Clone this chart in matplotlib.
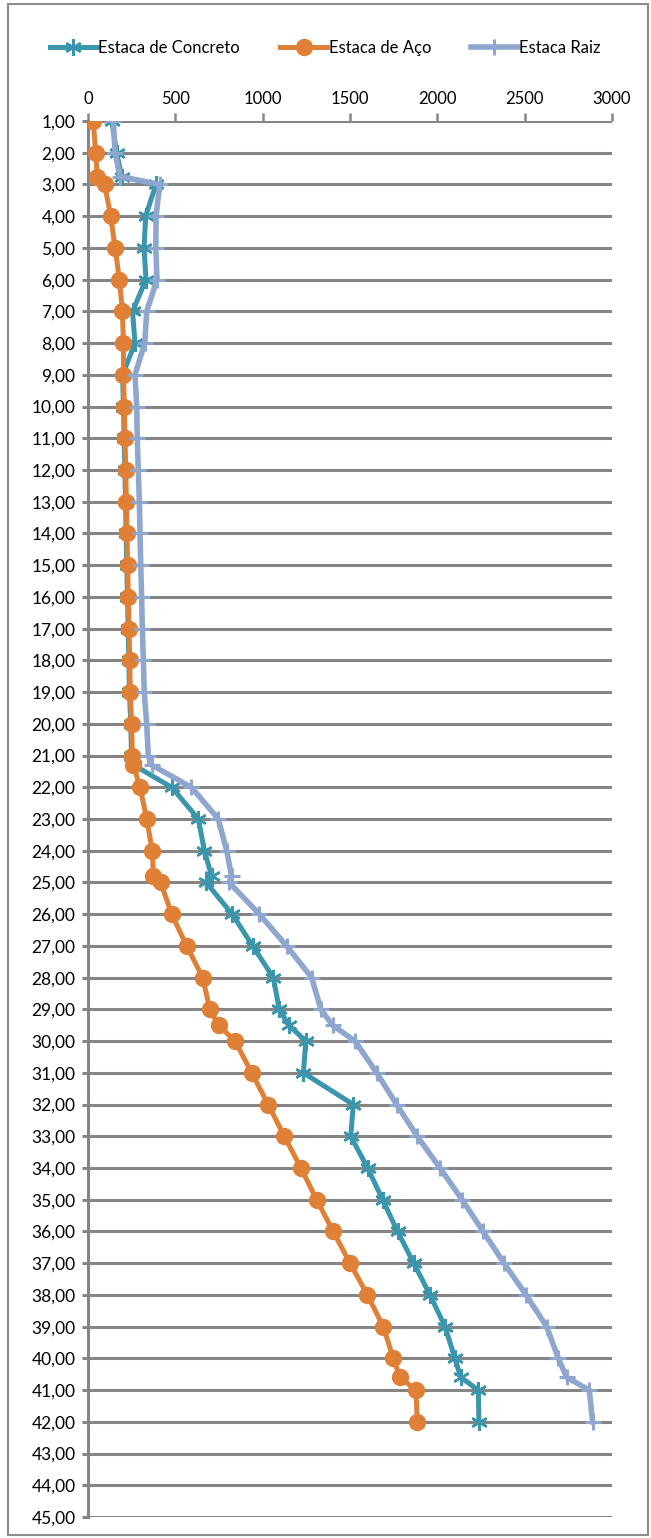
import matplotlib
matplotlib.use("Agg")
import matplotlib.pyplot as plt
from matplotlib.patches import Rectangle
from matplotlib.ticker import FuncFormatter

plt.rcParams['font.family'] = ['Lato', 'DejaVu Sans']

# profundidades (m)
depth = [1, 2, 2.75, 3, 4, 5, 6, 7, 8, 9, 10, 11, 12, 13, 14, 15, 16, 17, 18, 19, 20, 21,
         21.3, 22, 23, 24, 24.8, 25, 26, 27, 28, 29, 29.5, 30, 31, 32, 33, 34, 35, 36, 37,
         38, 39, 40, 40.6, 41, 42]

concreto = [136, 164, 193, 389, 330, 321, 332, 255, 269, 198, 203, 207, 211, 215, 218, 222,
            226, 230, 234, 237, 245, 249, 262, 479, 632, 666, 708, 676, 826, 943, 1061, 1095,
            1150, 1247, 1233, 1519, 1504, 1601, 1687, 1772, 1865, 1958, 2044, 2101, 2134,
            2235, 2238]

aco = [30, 44, 53, 95, 130, 155, 180, 197, 203, 203, 208, 212, 216, 220, 223, 227, 231, 235,
       239, 242, 250, 254, 260, 298, 336, 368, 374, 416, 479, 565, 657, 697, 748, 842, 937,
       1032, 1124, 1219, 1309, 1404, 1500, 1600, 1690, 1748, 1786, 1878, 1885]

raiz = [145, 155, 183, 410, 390, 388, 395, 336, 325, 269, 279, 282, 288, 294, 298, 302, 307,
        311, 317, 322, 336, 345, 365, 592, 746, 794, 822, 808, 981, 1137, 1281, 1333, 1400,
        1529, 1653, 1767, 1885, 2015, 2142, 2262, 2382, 2508, 2626, 2693, 2740, 2870, 2889]

series_names = ['Estaca de Concreto', 'Estaca de Aço', 'Estaca Raiz']
x_ticks = [0, 500, 1000, 1500, 2000, 2500, 3000]

W, H = 651, 1538
fig = plt.figure(figsize=(W / 100, H / 100), dpi=100)
ax = fig.add_axes([88 / W, 1 - 1517 / H, (612 - 88) / W, (1517 - 121) / H])

grid_c = '#858585'
c_conc = '#3A96AC'
c_aco = '#DF8036'
c_raiz = '#8FA7CF'

# series (ordem do Excel: concreto, aço, raiz)
ax.plot(concreto, depth, color=c_conc, lw=3.6, marker=(6, 2, 0), ms=12, mew=1.8,
        mec=c_conc, label=series_names[0], zorder=3)
ax.plot(aco, depth, color=c_aco, lw=3.6, marker='o', ms=11.5, mec=c_aco,
        label=series_names[1], zorder=4)
ax.plot(raiz, depth, color=c_raiz, lw=4.0, marker='+', ms=12, mew=2.2,
        mec=c_raiz, label=series_names[2], zorder=5)

ax.set_xlim(0, 3000)
ax.set_ylim(45, 1)
ax.set_xticks(x_ticks)
ax.set_yticks(range(1, 46))
ax.yaxis.set_major_formatter(FuncFormatter(lambda v, p: f'{v:.2f}'.replace('.', ',')))

ax.xaxis.tick_top()
ax.tick_params(axis='x', direction='out', length=6, width=1.8, color=grid_c,
               labelsize=12, pad=4)
ax.tick_params(axis='y', direction='out', length=4, width=2.2, color=grid_c,
               labelsize=12.5, pad=5)

ax.grid(axis='y', color=grid_c, lw=2.2, zorder=1)
ax.set_axisbelow(True)
for s in ['top', 'right', 'bottom']:
    ax.spines[s].set_visible(False)
ax.spines['left'].set_color(grid_c)
ax.spines['left'].set_linewidth(2.2)

# legenda no topo
fig.legend(loc='center', bbox_to_anchor=(0.5, 1 - 48 / H), ncol=3, frameon=False,
           fontsize=12, handlelength=2.8, handletextpad=0.1, columnspacing=2.4)

# borda da área do gráfico
fig.patches.append(Rectangle((8 / W, 3 / H), 640 / W, 1531 / H, transform=fig.transFigure,
                             fill=False, edgecolor='#8C8C8C', lw=1.5))

fig.savefig('out.png', dpi=100)
